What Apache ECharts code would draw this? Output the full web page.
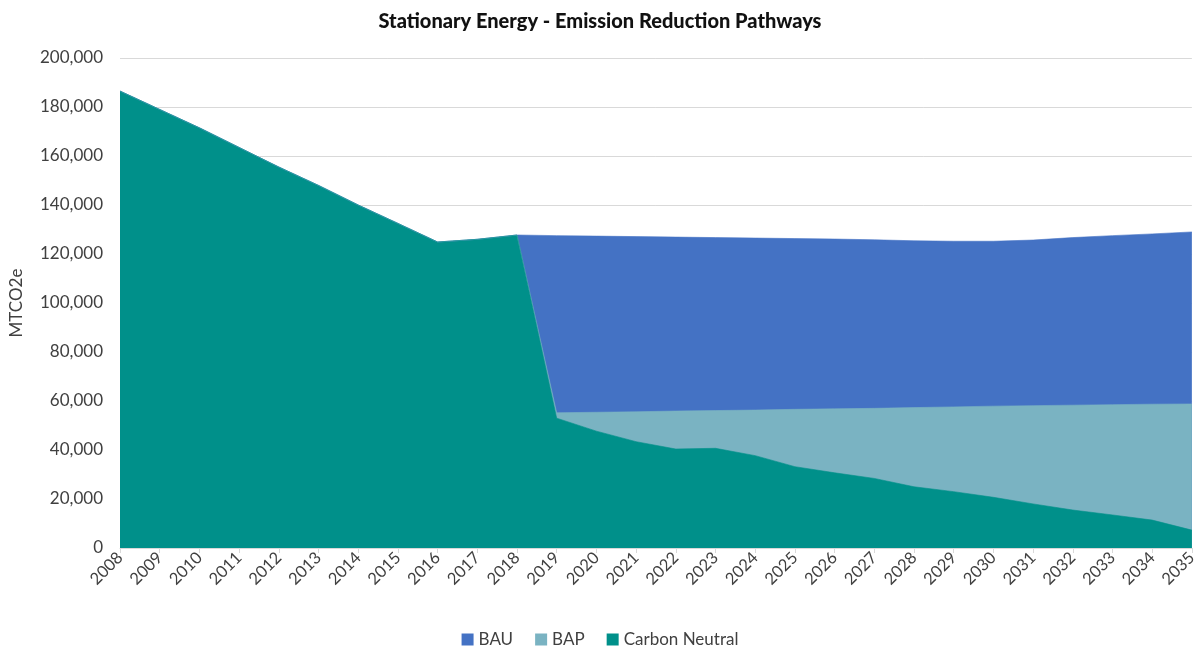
<!DOCTYPE html>
<html>
<head>
<meta charset="utf-8">
<script src="https://cdn.jsdelivr.net/npm/echarts@6/dist/echarts.min.js"></script>
<style>html,body{margin:0;padding:0;background:#fff;}#c{width:1200px;height:647px;}</style>
</head>
<body>
<div id="c"></div>
<script>
const years = ['2008','2009','2010','2011','2012','2013','2014','2015','2016','2017','2018','2019','2020','2021','2022','2023','2024','2025','2026','2027','2028','2029','2030','2031','2032','2033','2034','2035'];
const history = [186500,179000,171500,163500,155500,148000,140000,132500,124900,126000,127750];
const bauFuture = [127500,127300,127100,126900,126700,126500,126300,126100,125800,125400,125200,125200,125700,126700,127500,128200,129000];
const bapFuture = [55200,55400,55600,55900,56100,56300,56600,56800,57000,57300,57600,57900,58100,58300,58500,58700,58800];
const cnFuture = [53000,47700,43400,40400,40700,37700,33200,30700,28400,25000,23000,20700,18000,15500,13500,11400,7300];
const BAU = history.concat(bauFuture);
const BAP = history.concat(bapFuture);
const CN = history.concat(cnFuture);

const font = 'Lato, "Liberation Sans", sans-serif';
const chart = echarts.init(document.getElementById('c'));
function areaSeries(name, data, color){
  return {name, type:'line', data, showSymbol:false, symbol:'none',
    lineStyle:{width:0.6, color:color}, itemStyle:{color}, areaStyle:{color, opacity:1}, z:2};
}
chart.setOption({
  animation:false,
  title:{text:'Stationary Energy - Emission Reduction Pathways', left:'center', top:7,
    textStyle:{fontFamily:font, fontSize:20, fontWeight:900, color:'#111'}},
  grid:{left:119, right:4, top:58, bottom:99},
  legend:{top:626, left:'center', itemWidth:12, itemHeight:12, itemGap:22, icon:'rect',
    textStyle:{fontFamily:font, fontSize:17, color:'#404040'}},
  xAxis:{type:'category', data:years, boundaryGap:false,
    axisLine:{lineStyle:{color:'#d9d9d9'}},
    axisTick:{show:true, length:5, lineStyle:{color:'#d9d9d9'}, interval:0},
    axisLabel:{rotate:45, interval:0, margin:7, fontFamily:font, fontSize:16.5, color:'#404040'}},
  yAxis:{type:'value', min:0, max:200000, interval:20000,
    name:'MTCO2e', nameLocation:'middle', nameGap:95, nameRotate:90,
    nameTextStyle:{fontFamily:font, fontSize:17, color:'#404040'},
    axisLine:{show:false}, axisTick:{show:false},
    splitLine:{lineStyle:{color:'#d9d9d9'}},
    axisLabel:{margin:17, fontFamily:font, fontSize:17, color:'#404040',
      formatter:v=>v.toLocaleString('en-US')}},
  series:[
    areaSeries('BAU', BAU, '#4472C4'),
    areaSeries('BAP', BAP, '#7AB3C2'),
    areaSeries('Carbon Neutral', CN, '#00908A')
  ]
});
</script>
</body>
</html>
